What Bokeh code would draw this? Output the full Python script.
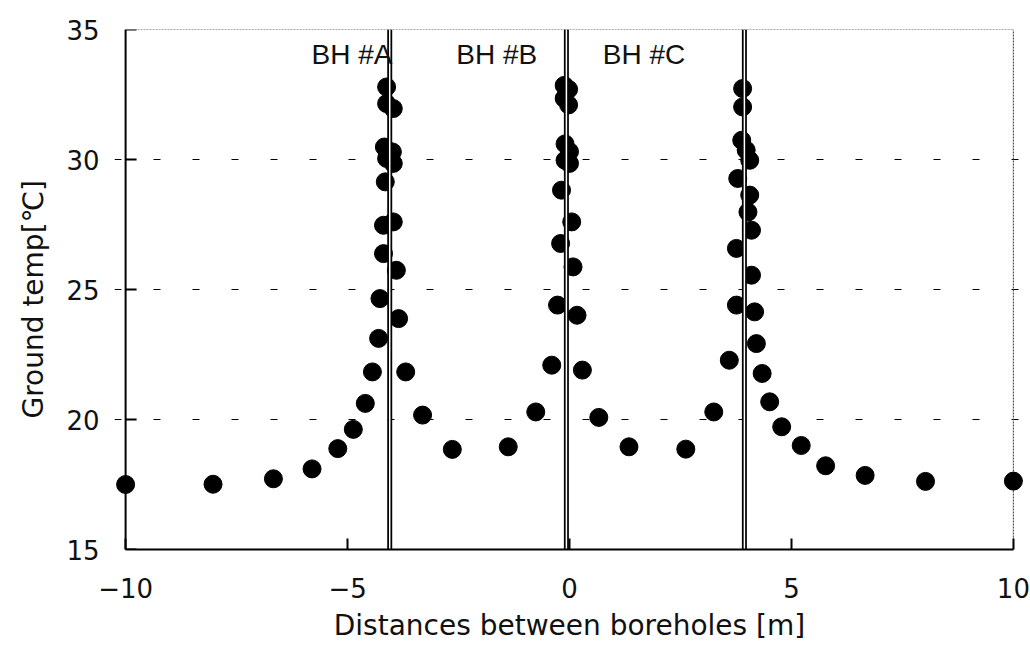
from bokeh.plotting import figure
from bokeh.models import Range1d, FixedTicker, Span, Title
from bokeh.core.properties import value
from bokeh.embed import file_html
from bokeh.resources import INLINE

# Measured ground temperatures [°C] versus distance [m] across the three boreholes
dist_m = [
    -10.0, -8.03, -6.67, -5.80, -5.22, -4.87, -4.60, -4.44, -4.30, -4.27,
    -4.19, -4.19, -4.15, -4.12, -4.17, -4.12, -4.12,
    -3.97, -3.99, -3.97, -3.97, -3.90, -3.85, -3.69, -3.31, -2.64, -1.38,
    -0.76, -0.40, -0.27, -0.20, -0.18, -0.10, -0.10, -0.12, -0.12,
    -0.02, -0.02, 0.00, 0.00, 0.05, 0.08, 0.17, 0.29, 0.66, 1.34, 2.62,
    3.25, 3.60, 3.76, 3.76, 3.79, 3.88, 3.90, 3.90,
    3.98, 4.06, 4.06, 4.02, 4.10, 4.10, 4.17, 4.21, 4.34, 4.51, 4.78,
    5.22, 5.77, 6.66, 8.02, 10.0,
]
ground_temp = [
    17.50, 17.51, 17.72, 18.10, 18.88, 19.62, 20.62, 21.83, 23.12, 24.65,
    26.38, 27.47, 29.14, 30.04, 30.48, 32.15, 32.79,
    31.96, 30.29, 29.85, 27.60, 25.74, 23.88, 21.83, 20.17, 18.85, 18.95,
    20.29, 22.09, 24.40, 26.77, 28.82, 29.97, 30.60, 32.35, 32.85,
    32.70, 32.10, 30.30, 29.85, 27.60, 25.87, 24.01, 21.90, 20.08, 18.95, 18.86,
    20.29, 22.28, 24.40, 26.58, 29.27, 30.74, 32.02, 32.73,
    30.36, 29.97, 28.63, 27.98, 27.28, 25.55, 24.14, 22.92, 21.77, 20.68, 19.72,
    19.00, 18.22, 17.85, 17.62, 17.63,
]

# Borehole positions [m] and their labels
borehole_x = [-4.05, -0.07, 3.94]
borehole_names = ["BH #A", "BH #B", "BH #C"]
label_x = [-4.9, -1.64, 1.68]
label_y = [34.05, 34.05, 34.05]

x_ticks = [-10, -5, 0, 5, 10]
x_tick_labels = {-10: "\u221210", -5: "\u22125", 0: "0", 5: "5", 10: "10"}
y_ticks = [15, 20, 25, 30, 35]
grid_levels = [20, 25, 30]

X_MIN, X_MAX = -10, 10
Y_MIN, Y_MAX = 15, 35
PAD = 0.25  # room so the end markers are not cut by the frame

p = figure(
    width=1030, height=648,
    x_range=Range1d(X_MIN - PAD, X_MAX + PAD),
    y_range=Range1d(Y_MIN, Y_MAX),
    output_backend="svg", toolbar_location=None,
    min_border_left=113, min_border_right=6,
    min_border_top=29, min_border_bottom=99,
)
p.background_fill_color = "white"
p.border_fill_color = "white"
p.outline_line_color = None

TEXT_FONT = "DejaVu Sans"
TEXT_COLOR = "#111111"

# x axis
p.xaxis.ticker = FixedTicker(ticks=x_ticks)
p.xaxis.major_label_overrides = x_tick_labels
p.xaxis.bounds = (X_MIN, X_MAX)
p.xaxis.axis_line_color = "black"
p.xaxis.axis_line_width = 2
p.xaxis.major_tick_line_color = "black"
p.xaxis.major_tick_line_width = 2
p.xaxis.major_tick_in = 11
p.xaxis.major_tick_out = 0
p.xaxis.minor_tick_line_color = None
p.xaxis.major_label_standoff = 28
p.xaxis.axis_label = "Distances between boreholes [m]"
p.xaxis.axis_label_standoff = 8
p.xaxis.axis_label_text_font = TEXT_FONT
p.xaxis.axis_label_text_font_size = "28px"
p.xaxis.axis_label_text_font_style = "normal"
p.xaxis.axis_label_text_color = TEXT_COLOR

# y axis in the side panel: tick labels only
p.yaxis.ticker = FixedTicker(ticks=y_ticks)
p.yaxis.axis_line_color = None
p.yaxis.major_tick_line_color = None
p.yaxis.minor_tick_line_color = None
p.yaxis.major_tick_in = 0
p.yaxis.major_tick_out = 0
p.yaxis.major_label_standoff = 15

for ax in (p.xaxis, p.yaxis):
    ax.major_label_text_font = TEXT_FONT
    ax.major_label_text_font_size = "26px"
    ax.major_label_text_color = TEXT_COLOR

# y axis line and inward ticks at x = -10
p.add_layout(Span(location=X_MIN, dimension="height", line_color="black", line_width=2))
p.ray(x=[X_MIN] * len(y_ticks), y=y_ticks, length=11, length_units="screen",
      angle=0, line_color="black", line_width=2)

# y axis title, set beside the tick labels
p.add_layout(Title(
    text="Ground temp[\u2103]", align="left", offset=131, standoff=28,
    text_font=TEXT_FONT, text_font_size="28px", text_font_style="normal",
    text_color=TEXT_COLOR,
), "left")

# grid: dashed horizontal lines only
p.xgrid.grid_line_color = None
p.ygrid.ticker = FixedTicker(ticks=grid_levels)
p.ygrid.grid_line_color = "black"
p.ygrid.grid_line_width = 1
p.ygrid.grid_line_dash = "7 32"

# top and right frame edges, dotted grey
p.segment(x0=[X_MIN, X_MAX], y0=[Y_MAX, Y_MIN], x1=[X_MAX, X_MAX], y1=[Y_MAX, Y_MAX],
          line_color="#555555", line_width=1.2, line_dash="2 1")

# temperature points
p.scatter(dist_m, ground_temp, size=18, marker="circle",
          fill_color="black", line_color="black")

# boreholes drawn as double lines
n = len(borehole_x)
p.segment(x0=borehole_x, y0=[Y_MIN] * n, x1=borehole_x, y1=[Y_MAX] * n,
          line_color="black", line_width=5)
p.segment(x0=borehole_x, y0=[Y_MIN] * n, x1=borehole_x, y1=[Y_MAX] * n,
          line_color="white", line_width=1.5)

p.text(x=label_x, y=label_y, text=borehole_names,
       text_font=value("Liberation Sans"), text_font_size="28px",
       text_align="center", text_baseline="middle", text_color=TEXT_COLOR)

open("out.html", "w").write(file_html(p, INLINE))
